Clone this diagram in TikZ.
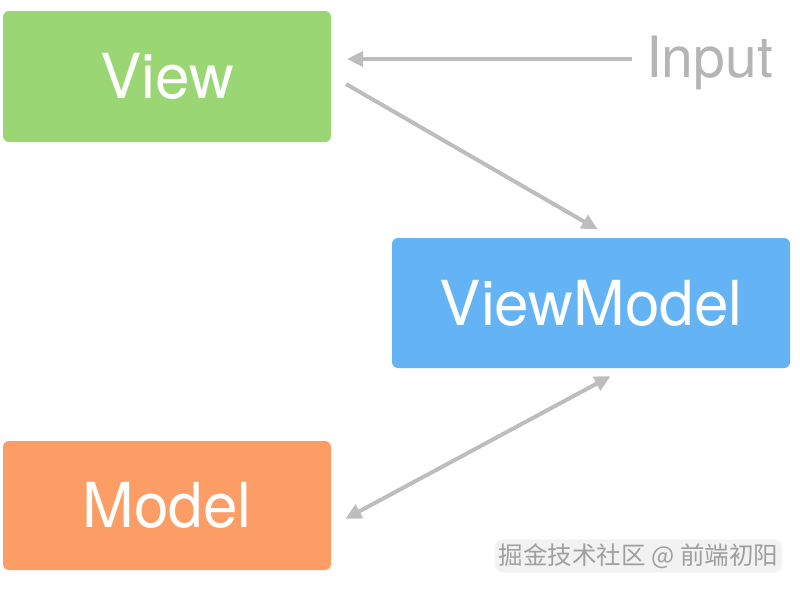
\documentclass[tikz,border=0pt]{standalone}
\usepackage{fontspec}
\setmainfont{TeX Gyre Heros}
\newfontfamily\cjk{Noto Sans CJK SC}
\usepackage{tikz}
\usetikzlibrary{arrows.meta,calc,positioning}
\definecolor{viewgreen}{HTML}{9BD675}
\definecolor{vmblue}{HTML}{63B3F5}
\definecolor{modelorange}{HTML}{FC9D66}
\definecolor{arrowgray}{HTML}{BDBDBD}
\definecolor{inputgray}{HTML}{B5B5B5}

\begin{document}
\begin{tikzpicture}[x=1pt,y=-1pt,line width=4pt]
  \tikzstyle{layer}=[rectangle,rounded corners=6pt,text=white,
                     font=\fontsize{62}{68}\selectfont,inner sep=0pt]
  \tikzstyle{link}=[draw=arrowgray]
  \tikzstyle{onehead}=[-{Triangle[length=16pt,width=15pt]}]
  \tikzstyle{twoheads}=[{Triangle[length=16pt,width=15pt]}-{Triangle[length=16pt,width=15pt]}]

  \useasboundingbox (0,0) rectangle (800,590);

  \node[layer,fill=viewgreen,minimum width=328pt,minimum height=131pt] (V)
        at (167,76.5)                {View};
  \node[layer,fill=vmblue,minimum width=398pt,minimum height=130pt] (VM)
        at (591,303)                 {ViewModel};
  \node[layer,fill=modelorange,minimum width=328pt,minimum height=129pt] (M)
        at (167,505.5)               {Model};
  \node[text=inputgray,font=\fontsize{57}{64}\selectfont,inner sep=0pt,
        anchor=west] (In) at (644,63) {Input};
  \coordinate (InL) at ($(In.west)+(0,-4)$);

  \draw[link,onehead,shorten <=12pt,shorten >=14pt] (InL) -- (InL -| V.east);
  \draw[link,onehead,shorten <=15pt,shorten >=13pt] (V.east) -- ($(VM.north)+(18,0)$);
  \draw[link,twoheads,shorten <=13pt,shorten >=14pt] ($(VM.south)+(31,0)$) -- ($(M.east)+(0,20)$);

  % watermark
  \node[fill=gray!10,rounded corners=8pt,text=gray!75,inner sep=4pt,
        font=\cjk\fontsize{24.5}{30}\selectfont,anchor=east] (W) at (784,556)
        {掘金技术社区 @ 前端初阳};
\end{tikzpicture}
\end{document}
